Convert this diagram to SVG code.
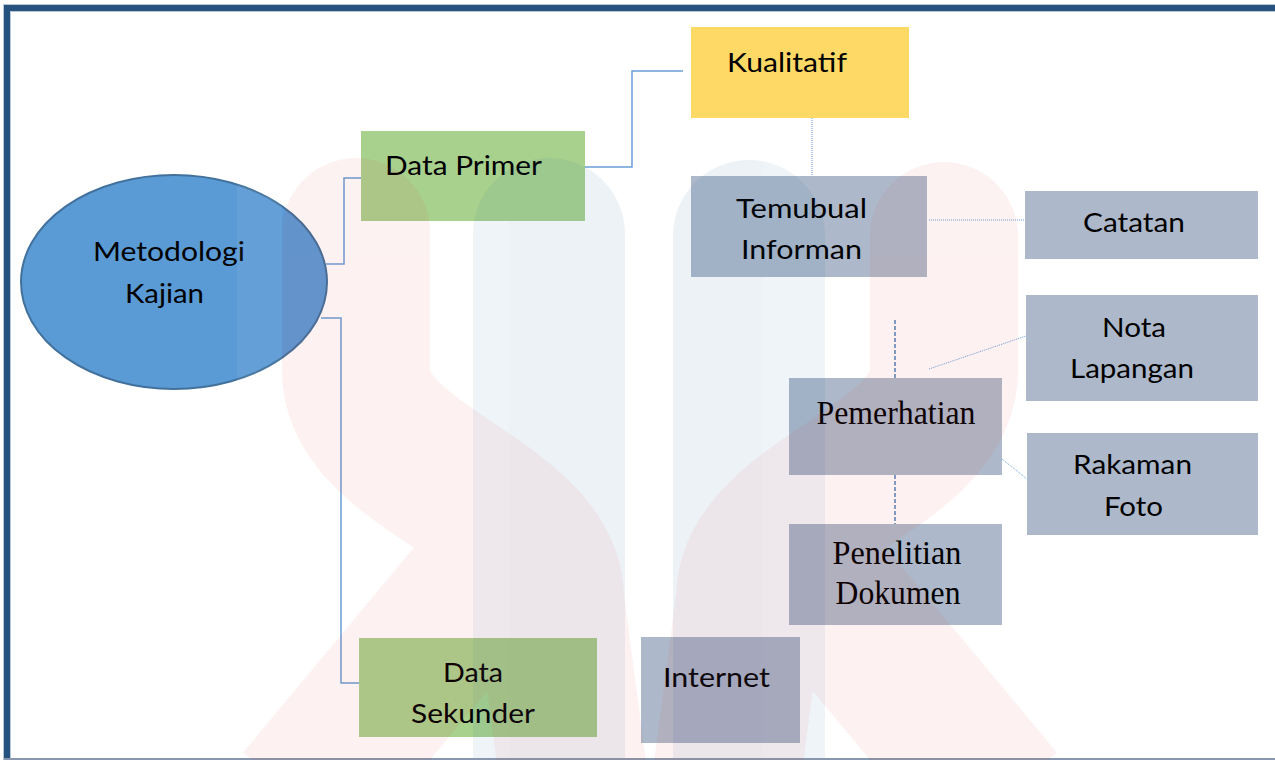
<svg xmlns="http://www.w3.org/2000/svg" width="1275" height="760" viewBox="0 0 1275 760">
<style>
.t{font-family:Lato,"Liberation Sans",sans-serif;font-size:26.5px;fill:#000;text-anchor:middle}
.s{font-family:"Liberation Serif","Times New Roman",serif;font-size:33px;fill:#000;text-anchor:middle}
.grey{fill:#adb9ca}
.green{fill:#a9d18e}
.solid{fill:none;stroke:#6a9fd8;stroke-width:1.5}
.dot{fill:none;stroke:#6a9fd8;stroke-width:1;stroke-dasharray:1 1}
.dash{fill:none;stroke:#4f81bd;stroke-width:1.5;stroke-dasharray:4 2}
</style>
<rect x="0" y="0" width="1275" height="760" fill="#ffffff"/>
<g id="frame">
<rect x="3" y="4" width="1272" height="8" fill="#b8c6d6"/>
<rect x="3" y="4" width="8" height="756" fill="#b8c6d6"/>
<rect x="4" y="5" width="1271" height="6" fill="#25527e"/>
<rect x="4" y="5" width="6" height="755" fill="#25527e"/>
<rect x="4" y="758" width="1271" height="2" fill="#8797ad"/>
</g>
<g id="connectors">
<polyline class="solid" points="326,264 344,264 344,178 361,178"/>
<polyline class="solid" points="321,318 341,318 341,683 359,683"/>
<polyline class="solid" points="585,167 632,167 632,71 683,71"/>
<line class="dot" x1="812" y1="118" x2="812" y2="176"/>
<line class="dot" x1="929" y1="220" x2="1025" y2="220"/>
<line class="dash" x1="895" y1="320" x2="895" y2="378"/>
<line class="dot" x1="929" y1="369" x2="1026" y2="336"/>
<line class="dot" x1="1002" y1="459" x2="1027" y2="479"/>
<line class="dash" x1="895" y1="475" x2="895" y2="524"/>
<line x1="542" y1="686" x2="591" y2="686" fill="none" stroke="#6a9fd8" stroke-width="2" stroke-dasharray="3 4"/>
</g>
<g id="metodologi">
<ellipse cx="174" cy="282" rx="153" ry="107" fill="#5b9bd5" stroke="#41719c" stroke-width="2"/>
<text class="t" x="169" y="261" textLength="152" lengthAdjust="spacingAndGlyphs">Metodologi</text>
<text class="t" x="164.5" y="303" textLength="79" lengthAdjust="spacingAndGlyphs">Kajian</text>
</g>
<g id="data-primer">
<rect class="green" x="361" y="131" width="224" height="90"/>
<text class="t" x="463.5" y="175" textLength="157" lengthAdjust="spacingAndGlyphs">Data Primer</text>
</g>
<g id="kualitatif">
<rect x="691" y="27" width="218" height="91" fill="#ffd966"/>
<text class="t" x="787" y="72" textLength="120" lengthAdjust="spacingAndGlyphs">Kualitatif</text>
</g>
<g id="temubual">
<rect class="grey" x="691" y="176" width="236" height="101"/>
<text class="t" x="801.5" y="218" textLength="131" lengthAdjust="spacingAndGlyphs">Temubual</text>
<text class="t" x="801.5" y="259" textLength="121" lengthAdjust="spacingAndGlyphs">Informan</text>
</g>
<g id="catatan">
<rect class="grey" x="1025" y="191" width="233" height="68"/>
<text class="t" x="1134" y="232" textLength="102" lengthAdjust="spacingAndGlyphs">Catatan</text>
</g>
<g id="nota-lapangan">
<rect class="grey" x="1026" y="295" width="232" height="106"/>
<text class="t" x="1134" y="337" textLength="64" lengthAdjust="spacingAndGlyphs">Nota</text>
<text class="t" x="1132" y="378" textLength="124" lengthAdjust="spacingAndGlyphs">Lapangan</text>
</g>
<g id="pemerhatian">
<rect class="grey" x="789" y="378" width="213" height="97"/>
<text class="s" x="896" y="424" textLength="159" lengthAdjust="spacingAndGlyphs">Pemerhatian</text>
</g>
<g id="rakaman-foto">
<rect class="grey" x="1027" y="433" width="231" height="102"/>
<text class="t" x="1132.5" y="474" textLength="119" lengthAdjust="spacingAndGlyphs">Rakaman</text>
<text class="t" x="1133.5" y="516" textLength="59" lengthAdjust="spacingAndGlyphs">Foto</text>
</g>
<g id="penelitian-dokumen">
<rect class="grey" x="789" y="524" width="213" height="101"/>
<text class="s" x="897" y="564" textLength="129" lengthAdjust="spacingAndGlyphs">Penelitian</text>
<text class="s" x="898" y="604" textLength="125" lengthAdjust="spacingAndGlyphs">Dokumen</text>
</g>
<g id="internet">
<rect class="grey" x="641" y="637" width="159" height="106"/>
<text class="t" x="716.5" y="687" textLength="107" lengthAdjust="spacingAndGlyphs">Internet</text>
</g>
<g id="data-sekunder">
<rect class="green" x="359" y="638" width="238" height="99"/>
<text class="t" x="473" y="682" textLength="60" lengthAdjust="spacingAndGlyphs">Data</text>
<text class="t" x="473" y="723" textLength="124" lengthAdjust="spacingAndGlyphs">Sekunder</text>
</g>
<g id="watermark" pointer-events="none">
<g opacity="0.065" fill="#0c549b">
<path d="M473,758 V234 A76,76 0 0 1 625,234 V758 Z"/>
<path d="M673,758 V236 A76,76 0 0 1 825,236 V758 Z"/>
</g>
<g opacity="0.06" fill="none" stroke="#e22929" stroke-width="148" stroke-linejoin="round">
<path d="M356,232 L356,370 C356,470 550,500 550,600 L575,790" stroke-linecap="round"/>
<path d="M500,560 L300,800"/>
<path d="M944,236 L944,370 C944,470 750,500 750,600 L725,790" stroke-linecap="round"/>
<path d="M800,560 L1000,800"/>
</g>
<rect x="237" y="150" width="45" height="250" fill="#ffffff" opacity="0.06"/>
</g>
</svg>
